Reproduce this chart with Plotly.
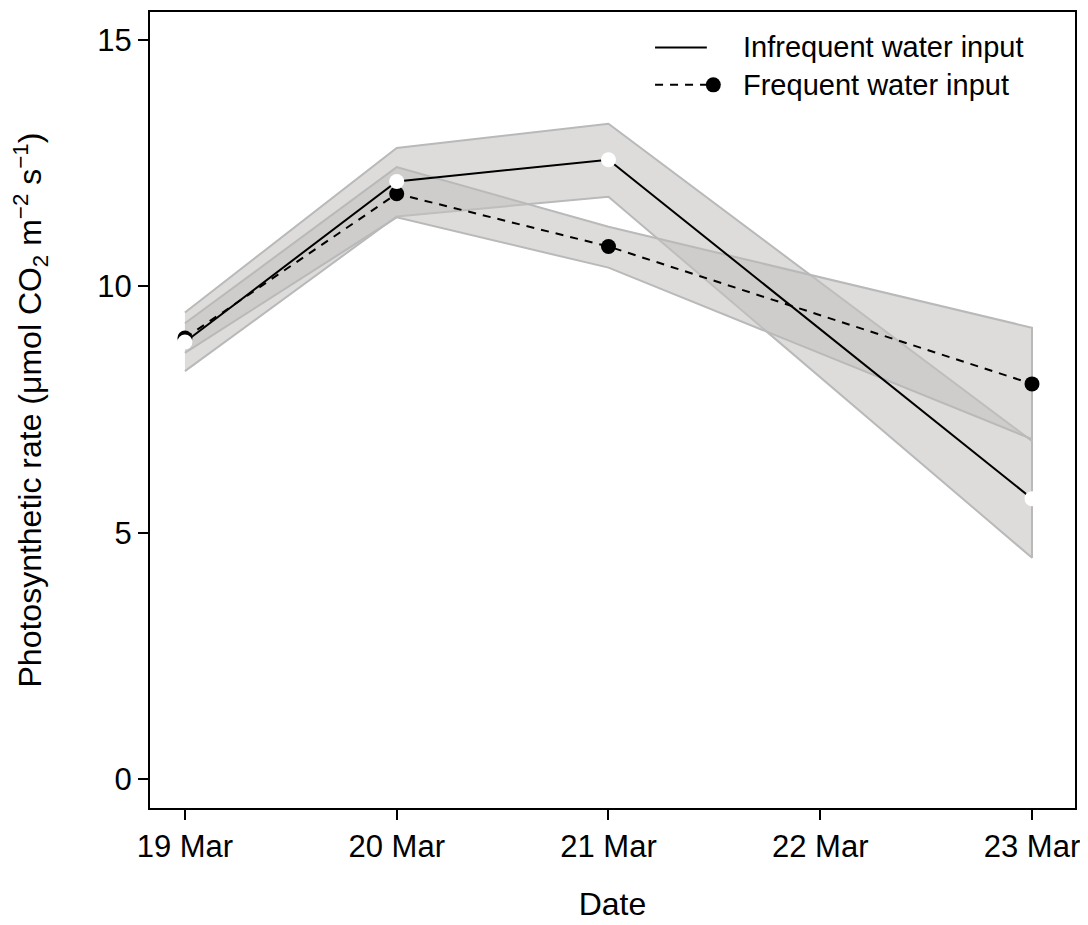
import plotly.graph_objects as go
import pandas as pd

dates = ["2021-03-19", "2021-03-20", "2021-03-21", "2021-03-23"]
tick_dates = ["2021-03-19", "2021-03-20", "2021-03-21", "2021-03-22", "2021-03-23"]
tick_labels = ["19 Mar", "20 Mar", "21 Mar", "22 Mar", "23 Mar"]

infreq_mean = [8.87, 12.13, 12.57, 5.69]
infreq_upper = [9.47, 12.81, 13.30, 6.86]
infreq_lower = [8.28, 11.42, 11.82, 4.49]

freq_mean = [8.95, 11.88, 10.81, 8.02]
freq_upper = [9.25, 12.42, 11.21, 9.16]
freq_lower = [8.65, 11.40, 10.38, 6.90]

series_names = ["Infrequent water input", "Frequent water input"]

FONT = "Liberation Sans, Arial, Helvetica, sans-serif"
ribbon_fill = "rgba(196,194,192,0.57)"
ribbon_line = "rgba(185,185,185,1)"
DASH = "8px,7px"

fig = go.Figure()

for up, lo in [(infreq_upper, infreq_lower), (freq_upper, freq_lower)]:
    fig.add_trace(go.Scatter(
        x=dates + dates[::-1], y=up + lo[::-1],
        fill="toself", fillcolor=ribbon_fill,
        line=dict(color=ribbon_line, width=2),
        mode="lines", showlegend=False, hoverinfo="skip"))

fig.add_trace(go.Scatter(
    x=dates, y=infreq_mean, mode="lines", name=series_names[0],
    line=dict(color="black", width=2), showlegend=False))
fig.add_trace(go.Scatter(
    x=dates, y=freq_mean, mode="lines+markers", name=series_names[1],
    line=dict(color="black", width=2, dash=DASH),
    marker=dict(color="black", size=15), showlegend=False))
fig.add_trace(go.Scatter(
    x=dates, y=infreq_mean, mode="markers", showlegend=False,
    marker=dict(color="white", size=15)))

x0 = pd.Timestamp(dates[0]) - pd.Timedelta(hours=0.165 * 24)
x1 = pd.Timestamp(dates[-1]) + pd.Timedelta(hours=0.203 * 24)

# manual legend (paper coordinates)
ly1, ly2 = 0.9555, 0.9085
shapes = [
    dict(type="line", xref="paper", yref="paper", x0=0.546, x1=0.602, y0=ly1, y1=ly1,
         line=dict(color="black", width=2)),
    dict(type="line", xref="paper", yref="paper", x0=0.546, x1=0.606, y0=ly2, y1=ly2,
         line=dict(color="black", width=2, dash=DASH)),
]
annotations = [
    dict(text=series_names[0], xref="paper", yref="paper", x=0.639, y=ly1,
         xanchor="left", yanchor="middle", showarrow=False, font=dict(size=29)),
    dict(text=series_names[1], xref="paper", yref="paper", x=0.639, y=ly2,
         xanchor="left", yanchor="middle", showarrow=False, font=dict(size=29)),
]
fig.add_trace(go.Scatter(
    x=[0.609], y=[ly2], xaxis="x2", yaxis="y2", mode="markers",
    marker=dict(color="black", size=15), showlegend=False, hoverinfo="skip"))

fig.update_layout(
    width=1080, height=917,
    margin=dict(l=142, r=13, t=2, b=117),
    paper_bgcolor="white", plot_bgcolor="white",
    font=dict(family=FONT, size=30, color="black"),
    showlegend=False,
    shapes=shapes, annotations=annotations,
    xaxis=dict(
        type="date", range=[x0, x1],
        tickvals=tick_dates, ticktext=tick_labels,
        showline=True, linecolor="black", linewidth=2, mirror=True,
        ticks="outside", ticklen=10, tickwidth=2, tickcolor="black",
        showgrid=False, zeroline=False,
        title=dict(text="Date", standoff=29, font=dict(size=32)),
        tickfont=dict(size=31)),
    yaxis=dict(
        range=[-0.59, 15.57],
        tickvals=[0, 5, 10, 15],
        showline=True, linecolor="black", linewidth=2, mirror=True,
        ticks="outside", ticklen=10, tickwidth=2, tickcolor="black",
        showgrid=False, zeroline=False,
        title=dict(text="Photosynthetic rate (\u03bcmol CO<sub>2</sub> m<sup>\u22122</sup> s<sup>\u22121</sup>)",
                   standoff=48, font=dict(size=32)),
        tickfont=dict(size=31)),
    xaxis2=dict(range=[0, 1], overlaying="x", visible=False, anchor="y2"),
    yaxis2=dict(range=[0, 1], overlaying="y", visible=False, anchor="x2"),
)

fig.write_html("out.html")
